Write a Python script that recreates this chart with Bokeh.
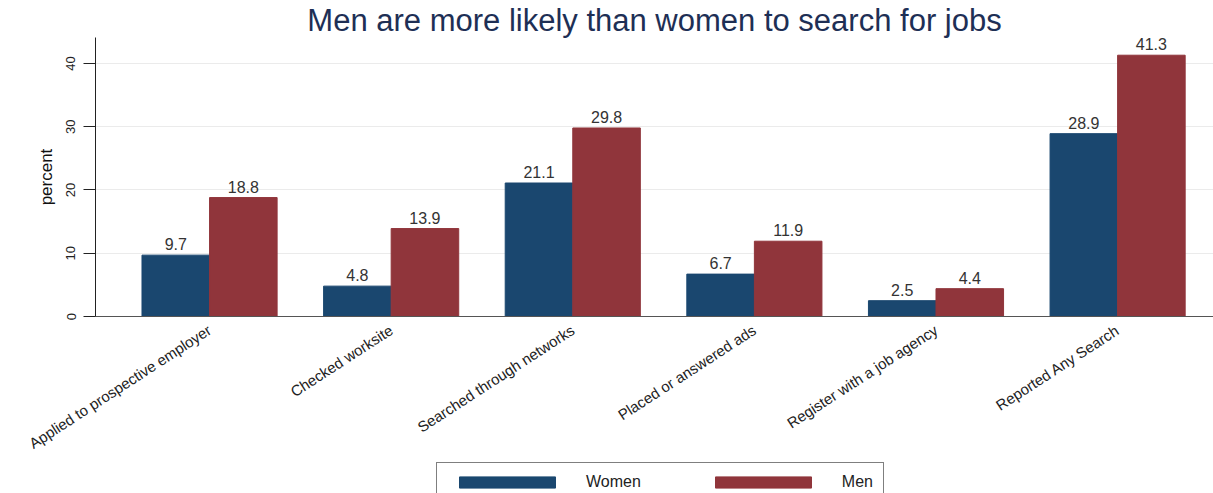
from bokeh.plotting import figure
from bokeh.models import Range1d, FixedTicker, Legend, LegendItem, ColumnDataSource
from bokeh.layouts import column
from bokeh.embed import file_html
from bokeh.resources import INLINE
from bokeh.core.properties import value
import numpy as np

categories = ["Applied to prospective employer", "Checked worksite",
              "Searched through networks", "Placed or answered ads",
              "Register with a job agency", "Reported Any Search"]
women = [9.7, 4.8, 21.1, 6.7, 2.5, 28.9]
men = [18.8, 13.9, 29.8, 11.9, 4.4, 41.3]
series_names = ["Women", "Men"]
y_ticks = [0, 10, 20, 30, 40]
title_text = "Men are more likely than women to search for jobs"

FONT = "Liberation Sans"
WOMEN_C = "#1a476f"
MEN_C = "#90353b"

W = 1213
H_MAIN, H_LEG = 462, 31
B_LEFT, B_TOP, B_BOTTOM = 95, 36, 146
ymax = 44.1

xs = np.arange(1, len(categories) + 1)
bw = 0.372

p = figure(width=W, height=H_MAIN, x_range=Range1d(0.372, 6.528), y_range=Range1d(0, ymax),
           output_backend="svg", toolbar_location=None, title=title_text,
           min_border_left=B_LEFT, min_border_right=0, min_border_top=B_TOP,
           min_border_bottom=B_BOTTOM)
p.outline_line_color = None
p.background_fill_color = "white"
p.border_fill_color = "white"

p.title.align = "center"
p.title.offset = 8
p.title.standoff = 0
p.title.text_font = FONT
p.title.text_font_size = "31px"
p.title.text_font_style = "normal"
p.title.text_color = "#1e2f55"

p.vbar(x=xs - bw / 2, top=women, width=bw, fill_color=WOMEN_C, line_color=WOMEN_C)
p.vbar(x=xs + bw / 2, top=men, width=bw, fill_color=MEN_C, line_color=MEN_C)

for offs, vals in ((-bw / 2, women), (bw / 2, men)):
    p.text(x=list(xs + offs), y=vals, text=[f"{v:.1f}" for v in vals],
           text_align="center", text_baseline="bottom", y_offset=-5,
           text_font=value(FONT), text_font_size="16px", text_color="#333333")

# x axis
p.xaxis.ticker = FixedTicker(ticks=list(xs))
p.xaxis.major_label_overrides = {int(i): c for i, c in zip(xs, categories)}
p.xaxis.major_label_orientation = np.deg2rad(33)
p.xaxis.major_tick_line_color = None
p.xaxis.minor_tick_line_color = None
p.xaxis.axis_line_color = "#555555"
p.xaxis.major_label_text_font = FONT
p.xaxis.major_label_text_font_size = "15px"
p.xaxis.major_label_text_color = "#222222"
p.xaxis.major_label_standoff = 6

# y axis
p.yaxis.ticker = FixedTicker(ticks=y_ticks)
p.yaxis.major_label_orientation = "vertical"
p.yaxis.major_tick_out = 12
p.yaxis.major_tick_in = 0
p.yaxis.minor_tick_line_color = None
p.yaxis.axis_line_color = "#222222"
p.yaxis.major_tick_line_color = "#222222"
p.yaxis.major_label_text_font = FONT
p.yaxis.major_label_text_font_size = "13px"
p.yaxis.major_label_text_color = "#222222"
p.yaxis.major_label_standoff = 8
p.yaxis.axis_label = "percent"
p.yaxis.axis_label_text_font = FONT
p.yaxis.axis_label_text_font_style = "normal"
p.yaxis.axis_label_text_font_size = "17px"
p.yaxis.axis_label_text_color = "#111111"
p.yaxis.axis_label_standoff = 8

p.xgrid.grid_line_color = None
p.ygrid.grid_line_color = "#ebebeb"
p.ygrid.ticker = FixedTicker(ticks=y_ticks)

# legend strip below the chart (proxy renderers lie outside its visible range)
lf = figure(width=W, height=H_LEG, x_range=Range1d(0, 1), y_range=Range1d(0, 1),
            output_backend="svg", toolbar_location=None,
            x_axis_location=None, y_axis_location=None, min_border=0)
lf.outline_line_color = None
lf.grid.grid_line_color = None
proxy = ColumnDataSource(data=dict(x=[-10.0], top=[0.0]))
lw = lf.vbar(x="x", top="top", width=0.1, source=proxy, fill_color=WOMEN_C, line_color=WOMEN_C)
lm = lf.vbar(x="x", top="top", width=0.1, source=proxy, fill_color=MEN_C, line_color=MEN_C)
legend = Legend(items=[LegendItem(label=series_names[0], renderers=[lw]),
                       LegendItem(label=series_names[1], renderers=[lm])],
                location=(341, -9), orientation="horizontal", margin=0,
                glyph_width=120, glyph_height=14, label_standoff=19, spacing=62,
                padding=10, border_line_color="black", border_line_width=1,
                label_text_font=FONT, label_text_font_size="16px",
                label_text_color="#222222", background_fill_color="white")
lf.add_layout(legend)

open("out.html", "w").write(file_html(column(p, lf), INLINE))
